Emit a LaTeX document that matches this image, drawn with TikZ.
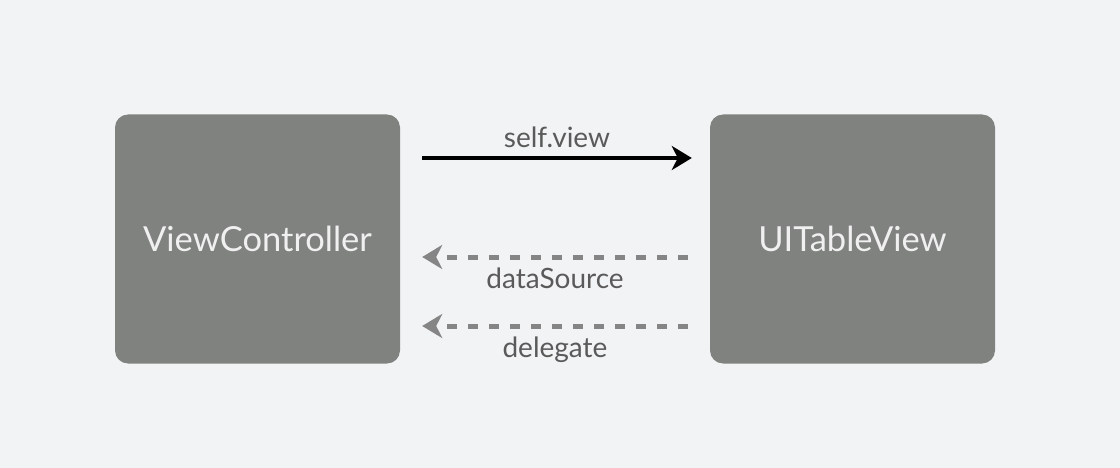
\documentclass[tikz,border=0pt]{standalone}
\usepackage{fontspec}
\setmainfont{Lato}
\usetikzlibrary{arrows.meta,positioning}
\definecolor{bgcol}{HTML}{F2F3F5}
\definecolor{boxcol}{HTML}{7F827F}
\definecolor{labcol}{HTML}{5A5A5A}
\definecolor{dashcol}{HTML}{858585}
\begin{document}
\begin{tikzpicture}[x=1pt,y=-1pt,
    objbox/.style={fill=boxcol, rounded corners=13pt, minimum width=285pt,
      minimum height=249pt, inner sep=0pt, text=white!94!black,
      font=\fontsize{34.5}{40}\selectfont},
    msglabel/.style={text=labcol, font=\fontsize{28}{32}\selectfont},
    refarrow/.style={line width=4pt, -{Stealth[length=20pt,width=24pt,inset=6pt]}},
    weakarrow/.style={draw=dashcol, line width=5pt, dash pattern=on 10pt off 11pt,
      -{Stealth[length=20pt,width=24pt,inset=6pt]}}]

  \fill[bgcol] (0,0) rectangle (1120,468);
  \useasboundingbox (0,0) rectangle (1120,468);

  \node[objbox] (vc) at (257.5,239) {ViewController};
  \node[objbox] (tv) at (852.5,239) {UITableView};

  % self.view
  \draw[refarrow] ([xshift=22pt,yshift=81pt]vc.east) -- ([xshift=-18pt,yshift=81pt]tv.west)
    node[msglabel, midway, above=5pt] (lself) {self.view};

  % dataSource, delegate
  \draw[weakarrow] ([xshift=-22pt,yshift=-18pt]tv.west) -- ([xshift=22pt,yshift=-18pt]vc.east)
    node[msglabel, midway, below=5pt] (lds) {dataSource};
  \draw[weakarrow] ([xshift=-22pt,yshift=-87pt]tv.west) -- ([xshift=22pt,yshift=-87pt]vc.east)
    node[msglabel, midway, below=5pt] (ldel) {delegate};

\end{tikzpicture}
\end{document}
